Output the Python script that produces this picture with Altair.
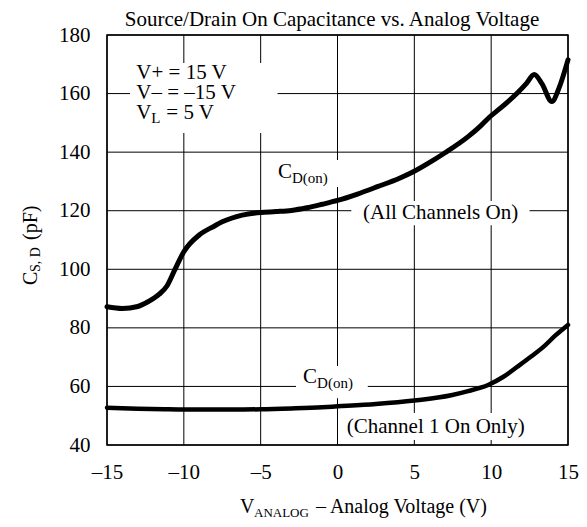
import altair as alt
import pandas as pd

FONT = "Liberation Serif"

# ---- data ----
upper_x = [-15, -14, -13, -12.3, -11.6, -11.1, -10.6, -10, -9, -8, -7.5, -6.2, -5, -4, -3, -2, -1, 0,
           1.3, 2.6, 4, 4.9, 6, 7, 8.5, 9.3, 9.9, 10.6, 11.7, 12.3, 12.8, 13.3, 13.95, 14.4, 15]
upper_y = [87.2, 86.6, 87.3, 89, 91.5, 94.3, 99.7, 106, 111.7, 114.8, 116.2, 118.5, 119.4, 119.7, 120.1, 121, 122.2, 123.5,
           125.7, 128.2, 131, 133.2, 136.5, 139.8, 145.3, 148.9, 152, 155, 160.2, 163.5, 166.5, 163.4, 157.3, 161.7, 171.5]

lower_x = [-15, -13, -11, -9, -7, -5, -3, -1, 0, 2.5, 5, 7.4, 8.5, 9.8, 10.8, 11.7, 12.6, 13.4, 14.2, 15]
lower_y = [52.7, 52.4, 52.2, 52.1, 52.1, 52.2, 52.5, 52.9, 53.2, 54.0, 55.2, 57.0, 58.4, 60.5, 63.3, 66.7, 70.2, 73.5, 77.5, 81]

x_ticks = [-15, -10, -5, 0, 5, 10, 15]
y_ticks = [40, 60, 80, 100, 120, 140, 160, 180]

title_text = "Source/Drain On Capacitance vs. Analog Voltage"

# white boxes behind annotations (data coordinates): x0, x1, y0, y1
box_x0 = [-13.5, 0.9, -4.15, -2.7, 0.15]
box_x1 = [-3.9, 12.5, 0.3, 1.97, 12.8]
box_y0 = [146.5, 115.0, 128.1, 56.0, 41.7]
box_y1 = [170.4, 123.3, 137.3, 67.0, 50.9]

# conditions block
cond_lines = ["V+ = 15 V", "V– = –15 V"]
cond_y = [166.9, 160.1]
cond_x = -13.09
vl_y = 153.2

# curve labels
cd_x = [-3.88, -2.24]
cd_y = [133.3, 63.3]
note_text = ["(All Channels On)", "(Channel 1 On Only)"]
note_x = [6.71, 6.39]
note_y = [119.1, 46.2]

W, H = 461, 410
xs = alt.Scale(domain=[-15, 15], nice=False, zero=False)
ys = alt.Scale(domain=[40, 180], nice=False, zero=False)

label_expr = "datum.value < 0 ? '–' + abs(datum.value) : '' + datum.value"
x_axis = alt.Axis(values=x_ticks, title=None, grid=False, ticks=False, domain=False,
                  labelExpr=label_expr, labelPadding=16, labelFontSize=21,
                  labelFont=FONT, labelColor="black", labelFlush=False)
y_axis = alt.Axis(values=y_ticks, title=None, grid=False, ticks=False, domain=False,
                  labelPadding=17, labelFontSize=21, labelFont=FONT,
                  labelColor="black", labelFlush=False)


def X(field):
    return alt.X(field, scale=xs, axis=x_axis)


def Y(field):
    return alt.Y(field, scale=ys, axis=y_axis)


curves = pd.concat([
    pd.DataFrame({"v": upper_x, "c": upper_y, "s": "upper"}),
    pd.DataFrame({"v": lower_x, "c": lower_y, "s": "lower"}),
])

# grid lines drawn as rules from the tick lists
vgrid = alt.Chart(pd.DataFrame({"gx": x_ticks})).mark_rule(color="black", strokeWidth=1).encode(x=X("gx:Q"))
hgrid = alt.Chart(pd.DataFrame({"gy": y_ticks})).mark_rule(color="black", strokeWidth=1).encode(y=Y("gy:Q"))

boxes = pd.DataFrame({"x0": box_x0, "x1": box_x1, "y0": box_y0, "y1": box_y1})
box_layer = alt.Chart(boxes).mark_rect(color="white", opacity=1).encode(
    x=X("x0:Q"), x2="x1:Q", y=Y("y0:Q"), y2="y1:Q",
)


def curve(name, width):
    return alt.Chart(curves).transform_filter(alt.datum.s == name).mark_line(
        color="black", strokeWidth=width, interpolate="monotone", strokeCap="round", strokeJoin="round"
    ).encode(x=X("v:Q"), y=Y("c:Q"))


def dtext(text, x, y, size=21, align="left", dx=0, dy=0):
    return alt.Chart(pd.DataFrame({"x": [x], "y": [y], "t": [text]})).mark_text(
        font=FONT, fontSize=size, align=align, baseline="middle", color="black", dx=dx, dy=dy
    ).encode(x=X("x:Q"), y=Y("y:Q"), text="t:N")


def ptext(text, x, y, size=21, align="left", dx=0, dy=0, angle=0, baseline="alphabetic"):
    return alt.Chart(pd.DataFrame({"t": [text]})).mark_text(
        font=FONT, fontSize=size, align=align, baseline=baseline, color="black", dx=dx, dy=dy
    ).encode(x=alt.value(x), y=alt.value(y), text="t:N", angle=alt.value(angle))


layers = [vgrid, hgrid, box_layer, curve("upper", 5), curve("lower", 4.5)]

for t, yy in zip(cond_lines, cond_y):
    layers.append(dtext(t, cond_x, yy))
layers.append(dtext("V", cond_x, vl_y))
layers.append(dtext("L", cond_x, vl_y, size=15, dx=15, dy=5))
layers.append(dtext("= 5 V", cond_x, vl_y, dx=30))

for cx, cy in zip(cd_x, cd_y):
    layers.append(dtext("C", cx, cy))
    layers.append(dtext("D(on)", cx, cy, size=15, dx=14, dy=6))

for t, nx, ny in zip(note_text, note_x, note_y):
    layers.append(dtext(t, nx, ny, align="center"))

# chart title
layers.append(ptext(title_text, 225, -9, align="center"))

# x-axis title (V_ANALOG – Analog Voltage (V))
xt_x, xt_y = 133, 478
layers.append(ptext("V", xt_x, xt_y, size=20))
layers.append(ptext("ANALOG", xt_x, xt_y, size=13, dx=14, dy=4))
layers.append(ptext("– Analog Voltage (V)", xt_x, xt_y, size=20, dx=76))

# y-axis title (C_S, D (pF)), rotated
yt_x, yt_y = -76, 210
layers.append(ptext("C", yt_x, yt_y, size=20, angle=270, baseline="middle", dx=-40))
layers.append(ptext("S, D", yt_x, yt_y, size=14, angle=270, baseline="middle", dx=-27, dy=5))
layers.append(ptext("(pF)", yt_x, yt_y, size=20, angle=270, baseline="middle", dx=5))

chart = alt.layer(*layers).properties(
    width=W, height=H,
    padding={"left": 99, "top": 27, "right": 11, "bottom": 74},
    autosize=alt.AutoSizeParams(type="none"),
).configure_view(stroke="black", strokeWidth=1.5)

chart.save("out.html", embed_options={"renderer": "svg", "actions": False})
